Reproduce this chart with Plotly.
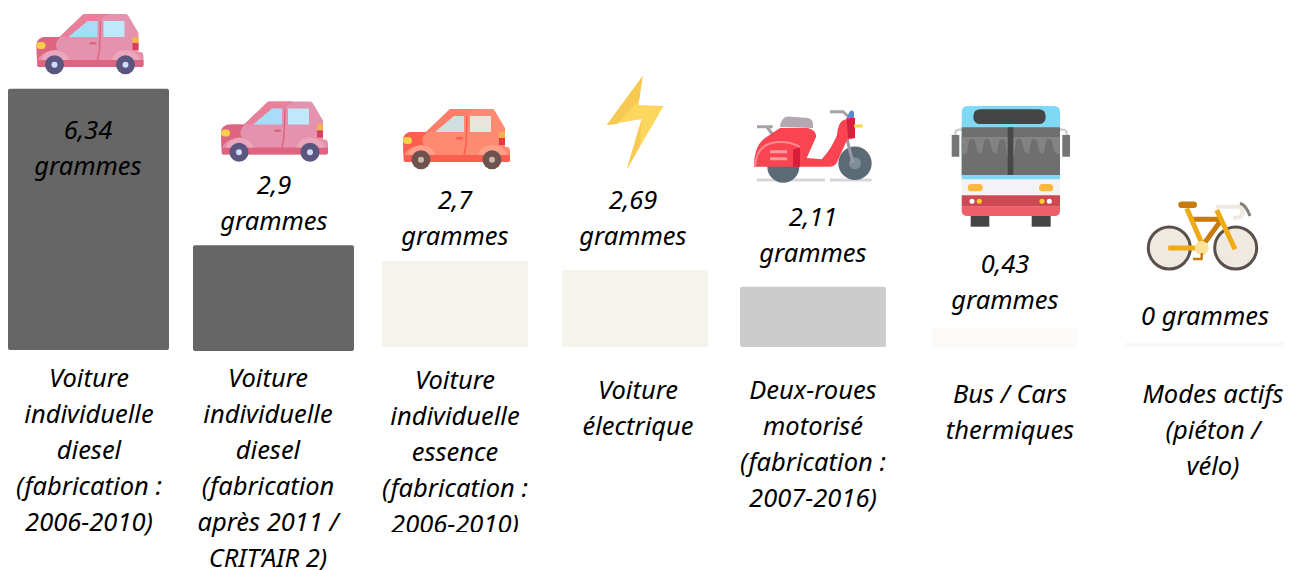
import re
import plotly.graph_objects as go

# ---- data ----
categories = [
    ["Voiture", "individuelle", "diesel", "(fabrication :", "2006-2010)"],
    ["Voiture", "individuelle", "diesel", "(fabrication", "après 2011 /", "CRIT’AIR 2)"],
    ["Voiture", "individuelle", "essence", "(fabrication :", "2006-2010)"],
    ["Voiture", "électrique"],
    ["Deux-roues", "motorisé", "(fabrication :", "2007-2016)"],
    ["Bus / Cars", "thermiques"],
    ["Modes actifs", "(piéton /", "vélo)"],
]
value_labels = [6.34, 2.9, 2.7, 2.69, 2.11, 0.43, 0]
# drawn bar heights as they appear in the picture (not proportional to the labels)
bar_heights = [6.34, 2.57, 2.09, 1.87, 1.46, 0.49, 0.12]
bar_bases = [-0.07, -0.10, 0, 0, 0, -0.02, 0]

# ---- layout / style ----
bar_centers = [88.5, 273.5, 455, 635, 813, 1005, 1205]
bar_widths = [161, 161, 146, 146, 146, 146, 160]
bar_colors = ["#666666", "#666666", "#f5f4ec", "#f5f4ec", "#cccccc", "#fbfaf8", "#faf9f7"]
cat_x = [89, 268, 455, 638, 813, 1010, 1213]
cat_y0 = [381, 381, 383, 393, 393, 397, 397]
val_x = [88, 274, 455, 633, 813, 1005, 1205]
val_y0 = [133, 188, 203, 203, 220, 267, 319]
PITCH = 36
FONT = "Noto Sans"
FSIZE = 25.5
PX = 41.2
Y0 = 347

fig = go.Figure()
fig.add_trace(go.Bar(x=bar_centers, y=bar_heights, base=bar_bases, width=bar_widths,
                     marker=dict(color=bar_colors, line=dict(width=0)), showlegend=False,
                     hoverinfo="skip"))

tx, ty, tt = [], [], []
for i, lines in enumerate(categories):
    for j, s in enumerate(lines):
        tx.append(cat_x[i]); ty.append(cat_y0[i] + j * PITCH); tt.append(s)
for i, v in enumerate(value_labels):
    num = str(v).replace(".", ",")
    if v == 0:
        tx.append(val_x[i]); ty.append(val_y0[i]); tt.append(num + " grammes")
    else:
        tx.append(val_x[i]); ty.append(val_y0[i]); tt.append(num)
        tx.append(val_x[i]); ty.append(val_y0[i] + PITCH); tt.append("grammes")
fig.add_trace(go.Scatter(x=tx, y=ty, yaxis="y2", mode="text", text=tt, textposition="middle center",
                         textfont=dict(family=FONT, size=FSIZE, color="#000000", style="italic"),
                         cliponaxis=False, showlegend=False, hoverinfo="skip"))

shapes = []
def shift(path, dx, dy):
    toks = re.findall(r"[A-Za-z]|-?[\d.]+", path)
    out, k = [], 0
    for t in toks:
        if t.isalpha():
            out.append(t)
        else:
            out.append(str(round(float(t) + (dx if k % 2 == 0 else dy), 2))); k += 1
    return " ".join(out)
def P(path, fill=None, line=None, w=0, dx=0, dy=0):
    shapes.append(dict(type="path", xref="x", yref="y2", path=shift(path, dx, dy),
                       fillcolor=fill if fill else "rgba(0,0,0,0)",
                       line=dict(color=line if line else "rgba(0,0,0,0)", width=w)))
def C(cx, cy, r, fill, line=None, w=0, dx=0, dy=0):
    shapes.append(dict(type="circle", xref="x", yref="y2", x0=cx-r+dx, x1=cx+r+dx, y0=cy-r+dy, y1=cy+r+dy,
                       fillcolor=fill, line=dict(color=line if line else "rgba(0,0,0,0)", width=w)))
def R(x0, y0, x1, y1, fill):
    P(f"M{x0} {y0} L{x1} {y0} L{x1} {y1} L{x0} {y1} Z", fill)
def pill(x0, y0, x1, y1, fill):
    r = (y1 - y0) / 2
    P(f"M{x0+r} {y0} L{x1-r} {y0} Q{x1} {y0} {x1} {y0+r} Q{x1} {y1} {x1-r} {y1} L{x0+r} {y1} Q{x0} {y1} {x0} {y0+r} Q{x0} {y0} {x0+r} {y0} Z", fill)

def car(dx, dy, main, roof, dark, arc, win1, win2, wheel, hub, line_c):
    P("M36.5 66 L36 44 Q37 38 44 37 L59 37 L82 15 Q83 14 85 14 L125 14 Q127 14 128 16 L138 33 L138 52 L141 52 Q143 53 143 56 L143 65 Q143 67 141 67 L38 67 Z", main, dx=dx, dy=dy)
    P("M82 15 Q83 14 85 14 L108 14 Q103 17 99 21 L87 21 L68 37 L59 37 Z", roof, dx=dx, dy=dy)
    P("M36.5 61 L36 44 Q37 38 44 37 L60 37 Q52 44 58 52 L46 52 Q40 54 36.5 61 Z", dark, dx=dx, dy=dy)
    P("M37 60 L143 60 L143 65 Q143 67 141 67 L38 67 L37 66 Z", dark, dx=dx, dy=dy)
    P("M41 60 Q44 50 54 50 Q64 50 69 60 Z", arc, dx=dx, dy=dy)
    P("M111 60 Q114 50 125 50 Q136 50 140 60 Z", arc, dx=dx, dy=dy)
    P("M68 37 L87 21 L97 21 L97 37 Z", win1, dx=dx, dy=dy)
    R(103+dx, 21+dy, 124+dx, 37+dy, win2)
    P("M100 21 L99 50 L97 60", None, dark, 1.5, dx=dx, dy=dy)
    pill(89+dx, 42+dy, 96+dx, 44.5+dy, dark)
    pill(36+dx, 42+dy, 45+dx, 49+dy, "#f6cf45")
    R(132+dx, 37+dy, 138+dx, 43+dy, "#f1b34a")
    R(132+dx, 43+dy, 138+dx, 50+dy, line_c)
    for cx in (54, 125):
        C(cx, 64.7, 9.5, wheel, dx=dx, dy=dy)
        C(cx, 64.7, 3, hub, dx=dx, dy=dy)

pink = dict(main="#e492ad", roof="#e97f9b", dark="#dd6580", arc="#eba6bb", win1="#a9dcf6", win2="#bfe9fb",
            wheel="#5a5680", hub="#cfdcfa", line_c="#d6405a")
car(0.5, 0, **pink)
car(185, 87.5, **pink)
car(367, 95, main="#fe8a71", roof="#ff7c68", dark="#fb5d4e", arc="#ffa08a", win1="#cfdede", win2="#e6e6dd",
    wheel="#6d524e", hub="#cbb9a8", line_c="#e8393c")

# lightning
P("M642.7 76 L606.7 125 L641.7 119 L626.7 169.5 L663.5 106 L638.5 105 Z", "#fdd65e")
P("M642.7 76 L606.7 125 L617 124 L639 100 Z", "#f8c952")
P("M641.7 119 L626.7 169.5 L640 146 Z", "#f8c952")

# scooter
P("M756.7 180 L825 180 M830 180 L871.7 180", None, "#d9d5d9", 3)
C(783.3, 166.7, 16, "#5a6b75")
C(855, 163.3, 16.7, "#5a6b75")
C(855, 163.3, 6, "#7f8f98")
P("M846.7 138 L853 163", None, "#9a98a3", 3)
P("M757 126.7 L772.7 126.7 M767 127 L773 135", None, "#a8a0a8", 3)
P("M780 127 Q781 117 788 116.5 L808 118 Q814 119 813 128 Z", "#b3a8b1")
P("M754 166.7 Q754 146 765 138 L780 128 L808 128 Q817 131 816 137 L806.7 158 L821.7 159.3 Q832 148 837 135 Q838 121 845 119.5 L855 119 L855 138 L847 140 L838 160 Q836 166.7 830 166.7 Z", "#fa4452")
P("M846.5 118 L855 118 L855 138 L848 138 Z", "#d91e3c")
P("M793 150 L800 147 L800 166.7 L793 166.7 Z", "#d91e3c")
P("M755 166 Q757 142 780 142 Q792 142 800 147", None, "#ff8a93", 2)
P("M770 151.7 L787 151.7 M770 158.7 L787 158.7", None, "#ff9aa2", 3)
P("M830 111.7 L843 111.7 L850 118", None, "#a8a0a8", 3)
P("M846.7 118 L850 111 Q853 109.5 854 112 L854 118 Z", "#4f8fd0")
P("M854 126 L862.7 126", None, "#f6d84a", 3)

# bus
P("M955 136 L956 131 Q957 129.5 962 129.5 M1067 136 L1066 131 Q1065 129.5 1060 129.5", None, "#d0d0d0", 2.5)
R(951.7, 135, 959.3, 156.7, "#757575")
R(1062.3, 135, 1070, 156.7, "#757575")
R(970.7, 214, 989.3, 226.7, "#454545")
R(1031.7, 214, 1050.7, 226.7, "#454545")
P("M961.7 112 Q961.7 106 968 106 L1054 106 Q1060 106 1060 112 L1060 180 L961.7 180 Z", "#7fd8f4")
pill(973.3, 109.3, 1045.7, 124, "#444444")
R(961.7, 127.3, 1060, 175, "#6f6f6f")
P("M961.7 137 L1060 137 L1060 154 Q1056 155 1054 150 L1052 141 Q1049 137 1046 141 L1044 153 Q1041 155 1039 150 L1037 141 Q1034 137 1031 141 L1029 153 Q1026 155 1024 150 L1022 141 Q1019 137 1016 141 L1014 155 L1007 155 L1005 141 Q1002 137 999 141 L997 153 Q994 155 992 150 L990 141 Q987 137 984 141 L982 153 Q979 155 977 150 L975 141 Q972 137 969 141 L967 153 Q964 155 961.7 154 Z", "#838383")
R(1007.7, 127.3, 1013.3, 175, "#484848")
R(961.7, 179.3, 1060, 195.3, "#f3f3f5")
R(961.7, 195.3, 1060, 206.7, "#cd4850")
P("M961.7 206.7 L1060 206.7 L1060 211 Q1060 216 1054 216 L968 216 Q961.7 216 961.7 211 Z", "#ef5f69")
pill(967.7, 184, 982.7, 191.3, "#fcb83c")
pill(1039, 184, 1053.3, 191.3, "#fcb83c")
C(972, 201.3, 2.5, "#ffffff"); C(979.3, 201.3, 2.5, "#fdd22f")
C(1042, 201.3, 2.5, "#fdd22f"); C(1049.3, 201.3, 2.5, "#ffffff")

# bike
C(1169.3, 248, 21, "#efe9e2", "#5a4f4a", 3)
C(1235.7, 248, 21, "#efe9e2", "#5a4f4a", 3)
P("M1191.7 219.3 L1220 219.3 M1220 221.7 L1201.7 246.7", None, "#c87a0f", 5)
P("M1186.7 208.3 L1203.3 246.7 M1168.3 248 L1201.7 248 M1216.7 210 L1235 249.3", None, "#f0aa14", 5)
P("M1216 206.7 L1240 206.7 Q1245 212 1240 217 L1233 218", None, "#efe9e0", 4)
P("M1240 203.3 Q1246 205 1250 216", None, "#857f7a", 3)
pill(1178.3, 201.5, 1197, 208, "#c87a0f")
C(1201.7, 248, 7, "#fde29a")
P("M1193 259 L1201.5 259 L1202 253", None, "#c87a0f", 2.5)

# clipped text bottom of the third category, as in the reference
R(370, 532, 540, 560, "#ffffff")

fig.update_layout(
    shapes=shapes,
    width=1290, height=570, margin=dict(l=0, r=0, t=0, b=0, pad=0),
    paper_bgcolor="#ffffff", plot_bgcolor="#ffffff", barcornerradius=2,
    xaxis=dict(range=[0, 1290], visible=False, fixedrange=True),
    yaxis=dict(range=[(Y0 - 570) / PX, Y0 / PX], visible=False, fixedrange=True),
    yaxis2=dict(range=[570, 0], visible=False, overlaying="y", fixedrange=True),
)
fig.write_html("out.html", config=dict(displayModeBar=False),
               post_script="document.body.style.margin='0';document.documentElement.style.overflow='hidden';")
